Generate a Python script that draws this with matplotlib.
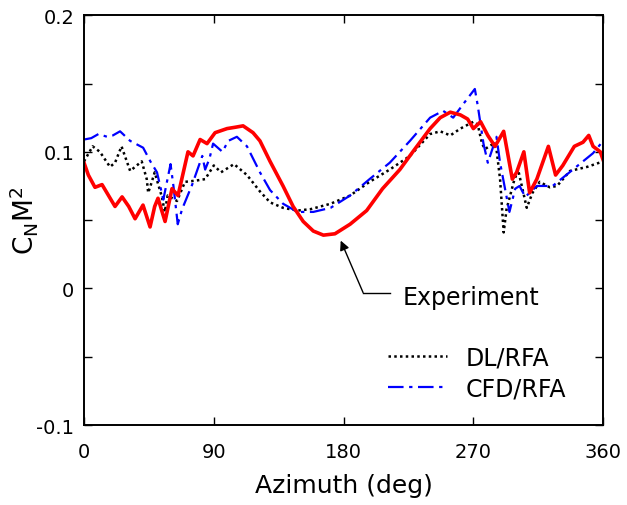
import matplotlib
matplotlib.use("Agg")
import matplotlib.pyplot as plt
from matplotlib.ticker import MultipleLocator

# ---- data ----
exp_az = [0, 3, 7.6, 12.5, 17, 21.5, 26.4, 31, 35.4, 40.9, 45.8, 49, 51.3, 56.2, 61, 65.2,
          72.1, 75.6, 80.5, 85.3, 90.9, 99.2, 105, 110.3, 117.2, 122, 129, 138, 145,
          152, 159, 166, 174, 184.5, 196, 207, 219, 228, 240, 247, 254, 261, 266, 270,
          275, 280, 285, 291, 297, 300, 305, 309, 314, 322, 327, 332, 340, 346, 350,
          353, 358, 360]
exp_cn = [0.092, 0.083, 0.074, 0.076, 0.068, 0.060, 0.067, 0.060, 0.051, 0.061, 0.045,
          0.060, 0.066, 0.049, 0.073, 0.068, 0.100, 0.097, 0.109, 0.106, 0.114, 0.117,
          0.118, 0.119, 0.114, 0.108, 0.093, 0.075, 0.060, 0.049, 0.042, 0.039, 0.040,
          0.047, 0.057, 0.073, 0.087, 0.100, 0.117, 0.125, 0.129, 0.127, 0.124, 0.117,
          0.122, 0.112, 0.104, 0.115, 0.080, 0.085, 0.100, 0.070, 0.080, 0.104, 0.083,
          0.090, 0.104, 0.107, 0.112, 0.104, 0.100, 0.094]

dl_az = [0, 6, 11, 18, 21.5, 26, 32, 40, 43.5, 44.5, 47, 49, 54, 56, 58, 64.5, 70, 78,
         84, 90, 95, 104, 113, 122, 129, 138, 148, 157, 171, 184.5, 198, 212, 226, 240,
         247, 254, 261, 270, 273, 276, 278, 284, 286, 288.5, 291, 293, 298, 301, 304,
         307, 311, 316, 323, 328, 337, 349, 360]
dl_cn = [0.093, 0.104, 0.100, 0.089, 0.092, 0.104, 0.086, 0.093, 0.080, 0.070, 0.078,
         0.085, 0.067, 0.056, 0.068, 0.064, 0.078, 0.079, 0.080, 0.090, 0.085, 0.091,
         0.083, 0.071, 0.063, 0.059, 0.057, 0.058, 0.062, 0.068, 0.078, 0.087, 0.097,
         0.113, 0.115, 0.112, 0.117, 0.122, 0.120, 0.106, 0.102, 0.106, 0.102, 0.080,
         0.041, 0.058, 0.078, 0.087, 0.073, 0.059, 0.070, 0.078, 0.074, 0.075, 0.086,
         0.089, 0.093]

cfd_az = [0, 5, 10, 16, 20, 25, 32, 41, 46, 50.6, 55, 60, 62, 65, 68, 75, 78, 82, 84,
          87, 89.5, 96, 100, 106, 113, 122, 129, 138, 148, 159, 171, 184.5, 198, 212,
          226, 240, 249, 256, 263, 271, 273, 277, 280, 286, 288.5, 295, 299, 302, 306,
          309, 314, 325, 339, 353, 360]
cfd_cn = [0.109, 0.110, 0.113, 0.111, 0.112, 0.115, 0.108, 0.103, 0.093, 0.085, 0.065,
          0.091, 0.075, 0.047, 0.058, 0.076, 0.085, 0.097, 0.087, 0.095, 0.106, 0.100,
          0.108, 0.111, 0.104, 0.085, 0.072, 0.062, 0.056, 0.056, 0.059, 0.068, 0.080,
          0.092, 0.108, 0.125, 0.130, 0.125, 0.135, 0.146, 0.134, 0.106, 0.092, 0.111,
          0.092, 0.056, 0.073, 0.075, 0.067, 0.070, 0.075, 0.075, 0.087, 0.099, 0.108]

x_ticks = [0, 90, 180, 270, 360]
y_ticks = [-0.1, 0, 0.1, 0.2]
y_ticklabels = ["-0.1", "0", "0.1", "0.2"]

# ---- figure ----
fig = plt.figure(figsize=(6.27, 5.06), dpi=100)
ax = fig.add_axes([0.134, 0.158, 0.828, 0.810])

ax.plot(dl_az, dl_cn, color="black", lw=1.8, linestyle=(0, (1, 1.3)), label="DL/RFA")
ax.plot(cfd_az, cfd_cn, color="#0000ff", lw=1.6, linestyle=(0, (7, 2.5, 1.5, 2.5)),
        label="CFD/RFA")
ax.plot(exp_az, exp_cn, color="#ff0000", lw=2.6)

ax.set_xlim(0, 360)
ax.set_ylim(-0.1, 0.2)
ax.set_xticks(x_ticks)
ax.set_yticks(y_ticks)
ax.set_yticklabels(y_ticklabels)
ax.yaxis.set_minor_locator(MultipleLocator(0.05))
ax.tick_params(which="both", direction="in", top=True, right=True, labelsize=14,
               width=1.0)
ax.tick_params(which="major", length=6)
ax.tick_params(which="minor", length=6)
ax.tick_params(axis="x", pad=12)
ax.tick_params(axis="y", pad=7)
for s in ax.spines.values():
    s.set_linewidth(1.4)

ax.set_xlabel("Azimuth (deg)", fontsize=18, labelpad=9)
ax.set_ylabel(r"C$_{\rm N}$M$^{2}$", fontsize=19, labelpad=-3)

# annotation
ax.annotate("", xy=(178, 0.035), xytext=(193.5, -0.003),
            arrowprops=dict(arrowstyle="-|>", color="black", lw=1.0,
                            mutation_scale=14, shrinkA=0, shrinkB=0))
ax.plot([193.5, 212], [-0.003, -0.003], color="black", lw=1.0)
ax.text(221, -0.006, "Experiment", fontsize=17, va="center", ha="left")

ax.legend(loc="center left", bbox_to_anchor=(0.585, 0.128), frameon=False, fontsize=17,
          handlelength=2.5, handletextpad=0.8, labelspacing=0.3, borderpad=0,
          borderaxespad=0)

fig.savefig("out.png", dpi=100)
